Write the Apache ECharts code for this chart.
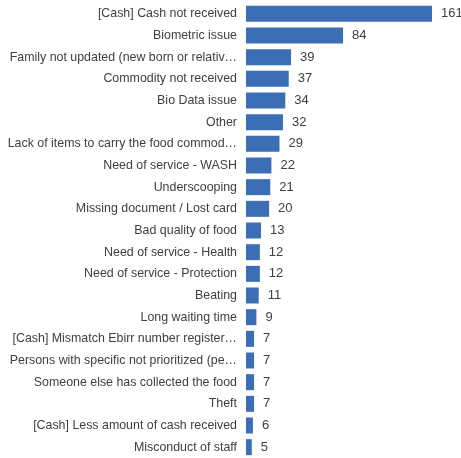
<!DOCTYPE html>
<html lang="en">
<head>
    <meta charset="UTF-8">
    <title>Complaint types</title>
    <script src="https://cdn.jsdelivr.net/npm/echarts@6/dist/echarts.min.js"></script>
    <style>
        html, body {
            margin: 0;
            padding: 0;
            background: #fff;
        }

        #chart {
            width: 461px;
            height: 458px;
        }
    </style>
</head>
<body>
<div id="chart"></div>
<script>
    // categories top to bottom, as shown
    const categories = [
        '[Cash] Cash not received',
        'Biometric issue',
        'Family not updated (new born or relativ\u2026',
        'Commodity not received',
        'Bio Data issue',
        'Other',
        'Lack of items to carry the food commod\u2026',
        'Need of service - WASH',
        'Underscooping',
        'Missing document / Lost card',
        'Bad quality of food',
        'Need of service - Health',
        'Need of service - Protection',
        'Beating',
        'Long waiting time',
        '[Cash] Mismatch Ebirr number register\u2026',
        'Persons with specific not prioritized (pe\u2026',
        'Someone else has collected the food',
        'Theft',
        '[Cash] Less amount of cash received',
        'Misconduct of staff'
    ];
    const counts = [161, 84, 39, 37, 34, 32, 29, 22, 21, 20, 13, 12, 12, 11, 9, 7, 7, 7, 7, 6, 5];

    var chart = echarts.init(document.getElementById('chart'));
    chart.setOption({
        animation: false,
        grid: {left: 246, right: 29, top: 3, bottom: -1, containLabel: false},
        xAxis: {
            type: 'value',
            min: 0,
            max: 161,
            show: false
        },
        yAxis: {
            type: 'category',
            inverse: true,
            data: categories,
            axisLine: {show: false},
            axisTick: {show: false},
            axisLabel: {
                margin: 9,
                fontFamily: 'Liberation Sans, Arial, sans-serif',
                fontSize: 12.4,
                color: '#404040'
            }
        },
        series: [{
            type: 'bar',
            data: counts,
            barWidth: 16,
            itemStyle: {color: '#3c6eb5'},
            label: {
                show: true,
                position: 'right',
                distance: 9,
                fontFamily: 'Liberation Sans, Arial, sans-serif',
                fontSize: 13,
                color: '#404040'
            }
        }]
    });
</script>
</body>
</html>
